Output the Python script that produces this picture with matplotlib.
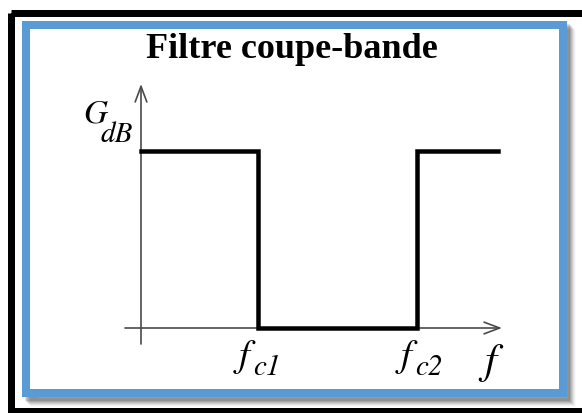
import matplotlib
matplotlib.use("Agg")
import matplotlib.pyplot as plt
from matplotlib.patches import Rectangle

# band-stop (coupe-bande) ideal response, in normalised units
freq = [0.0, 1.0, 1.0, 2.36, 2.36, 3.05]
gain_db = [1.0, 1.0, 0.0, 0.0, 1.0, 1.0]
fc_values = [1.0, 2.36]
fc_subs = ["c1", "c2"]
title = "Filtre coupe-bande"

W, H = 582, 414
fig = plt.figure(figsize=(W / 100, H / 100), dpi=100)
fig.patch.set_facecolor("white")

# background axes in pixel coordinates for the frames
bg = fig.add_axes([0, 0, 1, 1])
bg.set_xlim(0, W)
bg.set_ylim(H, 0)
bg.axis("off")

px = 0.72  # one pixel in points

# soft grey shadow right/bottom of the blue frame
for i, a in enumerate([0.12, 0.11, 0.10, 0.08, 0.06, 0.04, 0.02]):
    bg.add_patch(Rectangle((26 + 3 + i, 26 + 3 + i), 537, 369, fill=False,
                           lw=8 * px, ec="black", alpha=a, zorder=1))
bg.add_patch(Rectangle((26, 26), 537, 368, fill=True, fc="white",
                       lw=8 * px, ec="#5b9bd5", zorder=2))
# black outer frame (cut on the right)
bg.add_patch(Rectangle((10.5, 13.5), 620, 399, fill=False,
                       lw=7 * px, ec="black", zorder=3))

fig.text(292 / W, 1 - 58 / H, title, ha="center", va="baseline",
         fontsize=26, fontweight="bold", family="Liberation Serif")

# chart axes: x=0 at px 141, 1 unit = 117 px ; y=0 at py 329, 1 unit = 177 px
l, r, t, b = 90, 540, 60, 400
ax = fig.add_axes([l / W, 1 - b / H, (r - l) / W, (b - t) / H])
ax.set_xlim((l - 141) / 117, (r - 141) / 117)
ax.set_ylim((329 - b) / 177, (329 - t) / 177)
ax.axis("off")
ax.patch.set_alpha(0)

axis_col = "#4a4a4a"
arrow = dict(arrowstyle="->,head_length=0.8,head_width=0.3", lw=1.2,
             color=axis_col, shrinkA=0, shrinkB=0, mutation_scale=14)
ax.annotate("", xy=((502 - 141) / 117, 0), xytext=((125 - 141) / 117, 0),
            arrowprops=arrow)
ax.annotate("", xy=(0, (329 - 85) / 177), xytext=(0, (329 - 345) / 177),
            arrowprops=arrow)

ax.plot(freq, gain_db, color="black", lw=4.5 * px, solid_joinstyle="miter",
        zorder=3)


def label(x, y, dx, dy, s, size):
    ax.annotate(s, xy=(x, y), xytext=(dx, dy), textcoords="offset pixels",
                ha="left", va="baseline", fontsize=size, fontstyle="italic",
                family="STIXGeneral")


for fv, sub, dx in zip(fc_values, fc_subs, [-19, -16]):
    label(fv, 0, dx, -37, "f", 28)
    label(fv, 0, dx + 14, -46, sub, 21)
label(freq[-1], 0, -14, -44, "f", 31)
label(0, gain_db[0], -58, 29, "G", 24)
label(0, gain_db[0], -40, 10, "dB", 21)

fig.savefig("out.png", dpi=100)
